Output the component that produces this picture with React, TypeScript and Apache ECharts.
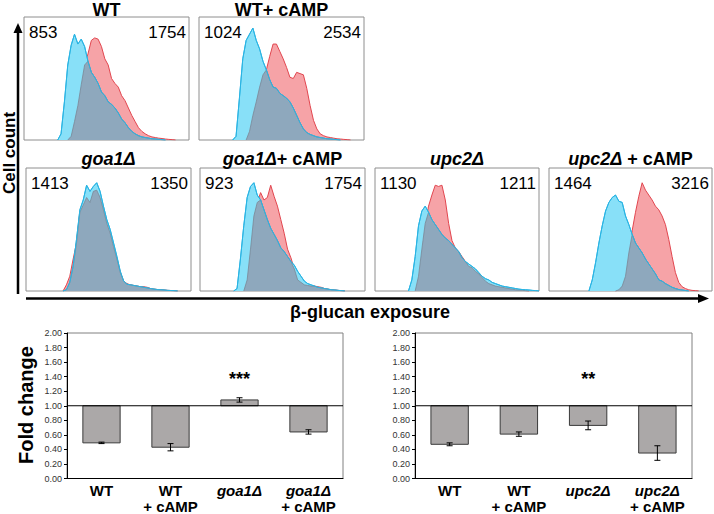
import React, { useEffect, useRef } from 'react';
import * as echarts from 'echarts';

const FONT = '"Liberation Sans", Arial, Helvetica, sans-serif';

// ---------- Histogram data (cell count, % of panel height, per fluorescence channel) ----------
const panelTitles = ['WT', 'WT+ cAMP', 'goa1Δ', 'goa1Δ+ cAMP', 'upc2Δ', 'upc2Δ + cAMP'];
const leftMFI = [853, 1024, 1413, 923, 1130, 1464];
const rightMFI = [1754, 2534, 1350, 1754, 1211, 3216];

const wtBlue = [0,0,0,0,0,0,0,0,0,0, 0,5,31,61,77,86,78,82,76,64, 55,51,46,39,36,31,29,26,22,17, 14,10,7,5,3.5,2.5,2,1.5,1,0.8, 0.5,0.3,0,0,0,0,0,0,0,0];
const wtRed = [0,0,0,0,0,0,0,0,0,0, 0,0,0,0,3,15,28,45,61,70, 81,83,82,76,66,61,50,46,43,36, 32,26,20,15,10,7,5,3.5,2.5,2, 1.5,1.2,0.8,0.5,0.3,0,0,0,0,0];
const wtCampBlue = [0,0,0,0,0,0,0,0,0,0, 0,3,34,66,81,86,91,81,74,64, 57,49,43,42,38,36,34,31,26,20, 14,9,6,4.5,3.5,2.5,2,1.5,1,0.8, 0.5,0.3,0,0,0,0,0,0,0,0];
const wtCampRed = [0,0,0,0,0,0,0,0,0,0, 0,0,0,0,0,7,20,31,43,53, 57,68,78,78,72,66,59,51,50,55, 54,53,42,28,16,9,5,3.5,2.5,2, 1.5,1,0.8,0.5,0.3,0,0,0,0,0];
const goaBlue = [0,0,0,0,0,0,0,0,0,0, 0,0,1,7,20,42,66,74,86,81, 85,88,81,69,58,50,39,28,16,8, 5.5,5,4.5,4,3.5,3,2.5,2,1.5,1.2, 1,0.8,0.5,0.4,0.3,0,0,0,0,0];
const goaRed = [0,0,0,0,0,0,0,0,0,0, 0,0,5,12,26,39,64,70,76,72, 81,82,76,66,55,47,36,26,15,8, 6,5,4.5,4,3.5,3.5,3,2,1.5,1.2, 1,0.8,0.5,0.4,0.3,0,0,0,0,0];
const goaCampBlue = [0,0,0,0,0,0,0,0,0,0, 0,2,26,53,76,85,88,78,74,66, 58,51,46,41,35,32,28,24,21,16, 12,8,6,5,4,3,2.5,2,1.5,1, 0.8,0.5,0.3,0,0,0,0,0,0,0];
const goaCampRed = [0,0,0,0,0,0,0,0,0,0, 0,0,0,0,9,34,61,72,80,74, 76,86,77,69,58,47,34,27,18,9, 7,5,4.5,4,4,3.5,3,2,1.5,1, 0.8,0.5,0.3,0,0,0,0,0,0,0];
const upcBlue = [0,0,0,0,0,0,0,0,0,0, 0,9,28,53,65,69,64,58,54,50, 46,43,41,38,35,32,27,24,22,20, 18,15,12,10,9,7,6,5,4,3.5, 3,2.5,2,1.5,1.2,1,0.8,0.5,0.3,0];
const upcRed = [0,0,0,0,0,0,0,0,0,0, 0,0,0,12,34,55,69,78,86,85, 86,74,55,41,35,32,28,24,20,19, 16,14,11,8,6,5,4,3.5,3,2.5, 2,1.5,1,0.8,0.5,0.3,0,0,0,0];
const upcCampBlue = [0,0,0,0,0,0,0,0,0,0, 0,0,0,9,23,39,53,65,72,76, 78,73,72,61,54,46,39,35,31,26, 22,18,14,9,8,6,4.5,3,2,1.2, 0.8,0.4,0,0,0,0,0,0,0,0];
const upcCampRed = [0,0,0,0,0,0,0,0,0,0, 0,0,0,0,0,0,0,0,0,0, 0,1,4,12,31,49,64,77,88,82, 78,74,69,66,61,54,42,28,15,7, 3.5,2,1,0.5,0.3,0,0,0,0,0];

const blueCounts = [wtBlue, wtCampBlue, goaBlue, goaCampBlue, upcBlue, upcCampBlue];
const redCounts = [wtRed, wtCampRed, goaRed, goaCampRed, upcRed, upcCampRed];

// ---------- Bar chart data ----------
const barCatsL = ['WT', 'WT\n+ cAMP', 'goa1Δ', 'goa1Δ\n+ cAMP'];
const foldL = [0.49, 0.43, 1.08, 0.64];
const errL = [0.01, 0.05, 0.03, 0.03];
const starsL = ['', '', '***', ''];
const barCatsR = ['WT', 'WT\n+ cAMP', 'upc2Δ', 'upc2Δ\n+ cAMP'];
const foldR = [0.47, 0.61, 0.73, 0.35];
const errR = [0.02, 0.03, 0.06, 0.10];
const starsR = ['', '', '**', ''];
const BASELINE = 1;
const STAR_Y = 1.37;

// ---------- Layout ----------
const PANEL_BOXES = [
  [24, 17, 165, 123],
  [199, 17, 165, 123],
  [26, 168, 165, 123],
  [200, 168, 165, 123],
  [375, 168, 164, 123],
  [549, 168, 163, 123],
];
const BAR_BOXES = [
  [67, 333, 276, 148.5],
  [415, 333, 277, 148.5],
];

const RED_FILL = '#f6a3a7';
const RED_LINE = '#e1464f';
const BLUE_FILL = '#88e0f8';
const BLUE_LINE = '#2ab4e3';
const OVER_FILL = '#8ea8bd';
const OVER_LINE = '#7b8796';

function toSeriesData(arr: number[]) {
  return arr.map((v, i) => {
    const prev = i > 0 ? arr[i - 1] : 0;
    const next = i < arr.length - 1 ? arr[i + 1] : 0;
    if (v === 0 && prev === 0 && next === 0) return [i, null];
    return [i, v];
  });
}

function richTitle(t: string) {
  const k = t.indexOf('Δ');
  if (k < 0) return `{b|${t}}`;
  const gene = t.slice(0, k + 1);
  const rest = t.slice(k + 1);
  return rest ? `{i|${gene}}{b|${rest}}` : `{i|${gene}}`;
}

function textStyle(extra: any) {
  return Object.assign({ fill: '#000' }, extra);
}

function buildOption() {
  const grid: any[] = [];
  const xAxis: any[] = [];
  const yAxis: any[] = [];
  const series: any[] = [];
  const graphic: any[] = [];

  PANEL_BOXES.forEach((b, p) => {
    const [left, top, width, height] = b;
    grid.push({ left, top, width, height, show: true, borderColor: '#8e8e8e', borderWidth: 1, backgroundColor: '#fff' });
    xAxis.push({ type: 'value', gridIndex: p, min: 0, max: 49, show: false });
    yAxis.push({ type: 'value', gridIndex: p, min: 0, max: 100, show: false });
    const blue = blueCounts[p];
    const red = redCounts[p];
    const over = blue.map((v, i) => Math.min(v, red[i]));
    const common = { type: 'line', xAxisIndex: p, yAxisIndex: p, symbol: 'none', showSymbol: false, smooth: false, silent: true, connectNulls: false };
    series.push({ ...common, name: 'red' + p, data: toSeriesData(red), lineStyle: { color: RED_LINE, width: 1 }, areaStyle: { color: RED_FILL, opacity: 1 }, z: 2 });
    series.push({ ...common, name: 'blue' + p, data: toSeriesData(blue), lineStyle: { color: BLUE_LINE, width: 1 }, areaStyle: { color: BLUE_FILL, opacity: 1 }, z: 3 });
    series.push({ ...common, name: 'over' + p, data: toSeriesData(over), lineStyle: { color: OVER_LINE, width: 0.8 }, areaStyle: { color: OVER_FILL, opacity: 1 }, z: 4 });
    series.push({ ...common, name: 'blueTop' + p, data: toSeriesData(blue), lineStyle: { color: BLUE_LINE, width: 1 }, z: 5 });

    // title
    const row2 = top > 100;
    graphic.push({
      type: 'text', x: left + width / 2, y: row2 ? 159 : 10,
      style: textStyle({
        text: richTitle(panelTitles[p]),
        textAlign: 'center', textVerticalAlign: 'middle', align: 'center', verticalAlign: 'middle',
        rich: {
          b: { fontFamily: FONT, fontWeight: 'bold', fontSize: 18, fill: '#000', color: '#000' },
          i: { fontFamily: FONT, fontWeight: 'bold', fontStyle: 'italic', fontSize: 18, fill: '#000', color: '#000' },
        },
      }),
    });
    graphic.push({
      type: 'text', x: left + 5, y: top + 15.5,
      style: textStyle({ text: String(leftMFI[p]), font: `17px ${FONT}`, textAlign: 'left', textVerticalAlign: 'middle', align: 'left', verticalAlign: 'middle' }),
    });
    graphic.push({
      type: 'text', x: left + width - 3, y: top + 15.5,
      style: textStyle({ text: String(rightMFI[p]), font: `17px ${FONT}`, textAlign: 'right', textVerticalAlign: 'middle', align: 'right', verticalAlign: 'middle' }),
    });
  });

  const barSets = [
    { cats: barCatsL, vals: foldL, errs: errL, stars: starsL },
    { cats: barCatsR, vals: foldR, errs: errR, stars: starsR },
  ];
  barSets.forEach((set, k) => {
    const g = PANEL_BOXES.length + k;
    const [left, top, width, height] = BAR_BOXES[k];
    grid.push({ left, top, width, height, show: true, borderColor: '#808080', borderWidth: 1 });
    xAxis.push({
      type: 'category', gridIndex: g, data: set.cats,
      axisLine: { show: true, lineStyle: { color: '#000', width: 1 } },
      axisTick: { show: false },
      axisLabel: {
        interval: 0, margin: 4,
        formatter: (val: string) => val.split('\n').map((l) => (l.indexOf('Δ') >= 0 ? `{g|${l}}` : `{n|${l}}`)).join('\n'),
        rich: {
          g: { fontFamily: FONT, fontWeight: 'bold', fontStyle: 'italic', fontSize: 15, lineHeight: 16, color: '#000' },
          n: { fontFamily: FONT, fontWeight: 'bold', fontSize: 15, lineHeight: 16, color: '#000' },
        },
      },
    });
    yAxis.push({
      type: 'value', gridIndex: g, min: 0, max: 2, interval: 0.2,
      axisLine: { show: true, lineStyle: { color: '#000', width: 1 } },
      axisTick: { show: true, length: 3, lineStyle: { color: '#000' } },
      axisLabel: { formatter: (v: number) => v.toFixed(2), fontSize: 9, fontFamily: FONT, color: '#333', margin: 5 },
      splitLine: { show: false },
    });
    series.push({
      type: 'custom', xAxisIndex: g, yAxisIndex: g, silent: true, z: 2,
      encode: { x: 0, y: 1 },
      data: set.vals.map((v, i) => [i, v, set.errs[i]]),
      renderItem: (params: any, api: any) => {
        const i = api.value(0);
        const v = api.value(1);
        const e = api.value(2);
        const base = api.coord([i, BASELINE]);
        const end = api.coord([i, v]);
        const bw = api.size([1, 0])[0] * 0.54;
        const x = base[0];
        const yTop = Math.min(base[1], end[1]);
        const h = Math.abs(base[1] - end[1]);
        const hi = api.coord([i, v + e])[1];
        const lo = api.coord([i, v - e])[1];
        const cap = 3;
        const children: any[] = [
          { type: 'rect', shape: { x: x - bw / 2, y: yTop, width: bw, height: h }, style: { fill: '#aba8a8', stroke: '#3a3a3a', lineWidth: 1 } },
          { type: 'line', shape: { x1: x, y1: hi, x2: x, y2: lo }, style: { stroke: '#000', lineWidth: 1 } },
          { type: 'line', shape: { x1: x - cap, y1: hi, x2: x + cap, y2: hi }, style: { stroke: '#000', lineWidth: 1 } },
          { type: 'line', shape: { x1: x - cap, y1: lo, x2: x + cap, y2: lo }, style: { stroke: '#000', lineWidth: 1 } },
        ];
        const s = set.stars[params.dataIndex];
        if (s) {
          const p = api.coord([i, STAR_Y]);
          children.push({
            type: 'text', x: p[0], y: p[1],
            style: { text: s, fill: '#000', font: `bold 18px ${FONT}`, textAlign: 'center', textVerticalAlign: 'middle', align: 'center', verticalAlign: 'middle' },
          });
        }
        return { type: 'group', children };
      },
    });
    series.push({
      type: 'custom', xAxisIndex: g, yAxisIndex: g, silent: true, z: 6,
      encode: { x: 0, y: 1 },
      data: [[0, BASELINE]],
      renderItem: (params: any, api: any) => {
        const cs = params.coordSys;
        const y = api.coord([0, BASELINE])[1];
        return { type: 'line', shape: { x1: cs.x, y1: y, x2: cs.x + cs.width, y2: y }, style: { stroke: '#000', lineWidth: 1 } };
      },
    });
  });

  // axes arrows for the histogram block
  graphic.push({ type: 'line', shape: { x1: 18, y1: 294, x2: 18, y2: 31 }, style: { stroke: '#000', lineWidth: 2.5 } });
  graphic.push({ type: 'polygon', shape: { points: [[18, 23], [13.5, 33], [22.5, 33]] }, style: { fill: '#000' } });
  graphic.push({ type: 'line', shape: { x1: 26, y1: 298.5, x2: 700, y2: 298.5 }, style: { stroke: '#000', lineWidth: 2.5 } });
  graphic.push({ type: 'polygon', shape: { points: [[709, 298.5], [698, 294], [698, 303]] }, style: { fill: '#000' } });

  graphic.push({
    type: 'text', x: 9, y: 153, rotation: Math.PI / 2,
    style: textStyle({ text: 'Cell count', font: `bold 17px ${FONT}`, textAlign: 'center', textVerticalAlign: 'middle', align: 'center', verticalAlign: 'middle' }),
  });
  graphic.push({
    type: 'text', x: 370, y: 312,
    style: textStyle({ text: 'β-glucan exposure', font: `bold 18px ${FONT}`, textAlign: 'center', textVerticalAlign: 'middle', align: 'center', verticalAlign: 'middle' }),
  });
  graphic.push({
    type: 'text', x: 26, y: 405, rotation: Math.PI / 2,
    style: textStyle({ text: 'Fold change', font: `bold 20px ${FONT}`, textAlign: 'center', textVerticalAlign: 'middle', align: 'center', verticalAlign: 'middle' }),
  });

  return {
    animation: false,
    backgroundColor: '#fff',
    grid, xAxis, yAxis, series, graphic,
  };
}

export default function App() {
  const ref = useRef<HTMLDivElement>(null);
  useEffect(() => {
    if (!ref.current) return;
    const chart = echarts.init(ref.current, undefined, { renderer: 'svg' });
    chart.setOption(buildOption() as any);
    return () => chart.dispose();
  }, []);
  return <div ref={ref} style={{ position: 'absolute', left: 0, top: 0, width: 714, height: 514 }} />;
}
